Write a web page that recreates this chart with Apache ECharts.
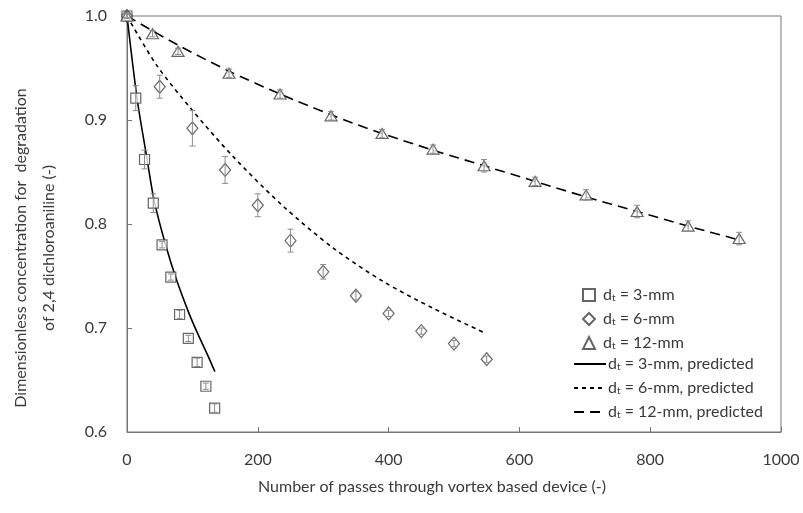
<!DOCTYPE html>
<html><head><meta charset="utf-8">
<script src="https://cdn.jsdelivr.net/npm/echarts@6/dist/echarts.min.js"></script>
<style>html,body{margin:0;padding:0;background:#fff}#c{width:803px;height:513px}</style>
</head><body><div id="c"></div>
<script>
// measured data
const x3 = [0, 13.4, 26.8, 40.2, 53.6, 67, 80.4, 93.8, 107.2, 120.6, 134];
const y3 = [1.000, 0.921, 0.862, 0.820, 0.780, 0.749, 0.713, 0.690, 0.667, 0.644, 0.623];
const e3 = [0.002, 0.012, 0.009, 0.009, 0.003, 0.003, 0.004, 0.003, 0.004, 0.003, 0.004];

const x6 = [0, 50, 100, 150, 200, 250, 300, 350, 400, 450, 500, 550];
const y6 = [1.000, 0.932, 0.892, 0.852, 0.818, 0.784, 0.754, 0.731, 0.714, 0.697, 0.685, 0.670];
const e6 = [0.002, 0.011, 0.017, 0.013, 0.011, 0.011, 0.007, 0.004, 0.003, 0.003, 0.003, 0.003];

const x12 = [0, 39, 78, 156, 234, 312, 390, 468, 546, 624, 702, 780, 858, 936];
const y12 = [1.000, 0.983, 0.966, 0.945, 0.925, 0.904, 0.887, 0.872, 0.856, 0.841, 0.828, 0.812, 0.798, 0.786];
const e12 = [0.002, 0.003, 0.003, 0.004, 0.004, 0.004, 0.004, 0.004, 0.006, 0.004, 0.005, 0.006, 0.005, 0.006];

// predicted curves
const p3x = [0, 15.8, 30, 41.7, 59, 74.8, 93.6, 106.4, 124, 134.4];
const p3y = [1.000, 0.919, 0.865, 0.822, 0.780, 0.748, 0.716, 0.697, 0.673, 0.658];
const p6x = [0, 45, 99, 162, 239, 315, 391, 468, 548];
const p6y = [1.000, 0.953, 0.910, 0.865, 0.817, 0.777, 0.745, 0.719, 0.695];
const p12x = [0, 78, 156, 234, 312, 390, 468, 546, 624, 702, 780, 858, 940];
const p12y = [1.000, 0.972, 0.947, 0.925, 0.905, 0.887, 0.871, 0.856, 0.841, 0.826, 0.812, 0.798, 0.784];

const xTicks = [0, 200, 400, 600, 800, 1000];
const yTicks = [0.6, 0.7, 0.8, 0.9, 1.0];

const names = ['3-mm', '6-mm', '12-mm', '3-mm, predicted', '6-mm, predicted', '12-mm, predicted'];

const FONT = 'Lato';
const FS = 16;
const TXT = '#3a3a3a';
const zip = (a, b) => a.map((v, i) => [v, b[i]]);
const errData = (xs, ys, es) => xs.map((v, i) => [v, ys[i] - es[i], ys[i] + es[i]]);

function errSeries(xs, ys, es) {
  return {
    type: 'custom', z: 5, silent: true,
    data: errData(xs, ys, es),
    renderItem: function (params, api) {
      const lo = api.coord([api.value(0), api.value(1)]);
      const hi = api.coord([api.value(0), api.value(2)]);
      const cw = 3;
      const st = { stroke: '#8c8c8c', lineWidth: 1 };
      return {
        type: 'group', children: [
          { type: 'line', shape: { x1: lo[0], y1: lo[1], x2: hi[0], y2: hi[1] }, style: st },
          { type: 'line', shape: { x1: lo[0] - cw, y1: lo[1], x2: lo[0] + cw, y2: lo[1] }, style: st },
          { type: 'line', shape: { x1: hi[0] - cw, y1: hi[1], x2: hi[0] + cw, y2: hi[1] }, style: st }
        ]
      };
    }
  };
}

const markerStyle = { color: '#ffffff', borderColor: '#404040', borderWidth: 1.2 };
const legendText = (pad) => ({
  fontFamily: FONT, fontSize: FS, color: TXT, lineHeight: 16, padding: [0, 0, 0, pad],
  rich: { s: { fontSize: 10, fontFamily: FONT, color: TXT, lineHeight: 16, verticalAlign: 'bottom', padding: [7, 0, 0, 0] } }
});

const chart = echarts.init(document.getElementById('c'));
chart.setOption({
  animation: false,
  textStyle: { fontFamily: FONT },
  grid: { left: 127, right: 22, top: 16, bottom: 81, show: true, borderColor: '#767676', borderWidth: 1 },
  xAxis: {
    type: 'value', min: xTicks[0], max: xTicks[xTicks.length - 1], interval: 200,
    axisLine: { lineStyle: { color: '#767676', width: 1 } },
    axisTick: { inside: true, length: 5, lineStyle: { color: '#767676' } },
    axisLabel: { color: TXT, fontSize: FS, margin: 20, fontFamily: FONT, formatter: v => String(v) },
    splitLine: { show: false }
  },
  yAxis: {
    type: 'value', min: yTicks[0], max: yTicks[yTicks.length - 1], interval: 0.1,
    axisLine: { show: true, lineStyle: { color: '#767676', width: 1 } },
    axisTick: { show: true, inside: true, length: 5, lineStyle: { color: '#767676' } },
    axisLabel: { color: TXT, fontSize: FS, margin: 20, fontFamily: FONT, formatter: v => v.toFixed(1) },
    splitLine: { show: false }
  },
  legend: [
    {
      orient: 'vertical', left: 577, top: 281, itemWidth: 12, itemHeight: 12, itemGap: 7,
      data: names.slice(0, 3).map(n => ({ name: n })),
      formatter: n => 'd{s|t} = ' + n,
      textStyle: legendText(3)
    },
    {
      orient: 'vertical', left: 568, top: 350, itemWidth: 32, itemHeight: 12, itemGap: 7,
      data: names.slice(3).map(n => ({ name: n, icon: 'inherit' })),
      itemStyle: { opacity: 0 },
      formatter: n => 'd{s|t} = ' + n,
      textStyle: legendText(-3)
    }
  ],
  graphic: [
    { type: 'text', x: 7, y: 248, rotation: Math.PI / 2,
      style: { text: 'Dimensionless concentration for  degradation\nof 2,4 dichloroaniline (-)', fontFamily: FONT, fontSize: FS,
        fill: TXT, align: 'center', verticalAlign: 'top', lineHeight: 28 } },
    { type: 'text', x: 432, y: 487,
      style: { text: 'Number of passes through vortex based device (-)', fontFamily: FONT, fontSize: FS,
        fill: TXT, align: 'center', verticalAlign: 'middle' } }
  ],
  series: [
    { name: names[0], type: 'scatter', symbol: 'rect', symbolSize: 10, z: 4, data: zip(x3, y3), itemStyle: markerStyle },
    { name: names[1], type: 'scatter', symbol: 'diamond', symbolSize: [11, 13], z: 4, data: zip(x6, y6), itemStyle: markerStyle },
    { name: names[2], type: 'scatter', symbol: 'triangle', symbolSize: [12, 10], z: 4, data: zip(x12, y12), itemStyle: markerStyle },
    { name: names[3], type: 'line', smooth: 0.3, symbol: 'none', z: 3, data: zip(p3x, p3y),
      lineStyle: { color: '#000', width: 1.6, type: 'solid' }, itemStyle: { color: '#000' } },
    { name: names[4], type: 'line', smooth: 0.3, symbol: 'none', z: 3, data: zip(p6x, p6y),
      lineStyle: { color: '#000', width: 1.6, type: [4, 4] }, itemStyle: { color: '#000' } },
    { name: names[5], type: 'line', smooth: 0.3, symbol: 'none', z: 3, data: zip(p12x, p12y),
      lineStyle: { color: '#000', width: 1.6, type: [10, 6] }, itemStyle: { color: '#000' } },
    errSeries(x3, y3, e3),
    errSeries(x6, y6, e6),
    errSeries(x12, y12, e12)
  ]
});
</script></body></html>
